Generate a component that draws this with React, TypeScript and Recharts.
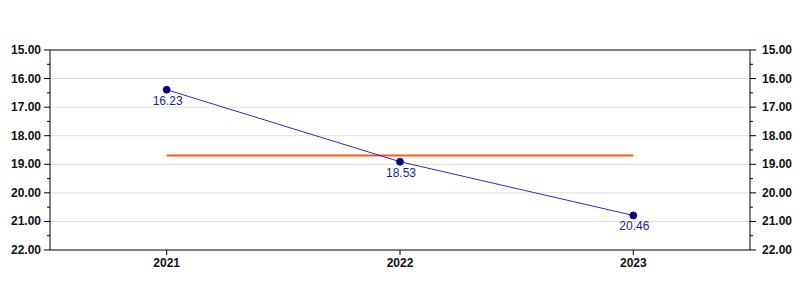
import React from 'react';
import { ComposedChart, Line, XAxis, YAxis, CartesianGrid, ReferenceLine, LabelList } from 'recharts';

const years = ['2021', '2022', '2023'];
const values = [16.39, 18.91, 20.79];
const valueLabels = ['16.23', '18.53', '20.46'];
const yTicks = [15, 15.5, 16, 16.5, 17, 17.5, 18, 18.5, 19, 19.5, 20, 20.5, 21, 21.5, 22];
const gridValues = [16, 17, 18, 19, 20, 21];

const mean = values.reduce((a, b) => a + b, 0) / values.length;
const data = years.map((year, i) => ({ year, value: values[i], label: valueLabels[i], avg: mean }));

const FONT = '"Liberation Sans", Arial, sans-serif';

const LeftTick = (props: any) => {
  const { x, y, payload } = props;
  const major = Number.isInteger(payload.value);
  return (
    <g>
      <line x1={x - (major ? 6 : 3)} x2={x} y1={y} y2={y} stroke="#000" />
      {major && (
        <text x={x - 9} y={y} dy={4} textAnchor="end" fontSize={12} fontWeight="bold" fontFamily={FONT} fill="#111">
          {payload.value.toFixed(2)}
        </text>
      )}
    </g>
  );
};

const RightTick = (props: any) => {
  const { x, y, payload } = props;
  const major = Number.isInteger(payload.value);
  return (
    <g>
      <line x1={x} x2={x + (major ? 6 : 3)} y1={y} y2={y} stroke="#000" />
      {major && (
        <text x={x + 12} y={y} dy={4} textAnchor="start" fontSize={12} fontWeight="bold" fontFamily={FONT} fill="#111">
          {payload.value.toFixed(2)}
        </text>
      )}
    </g>
  );
};

const PointLabel = (props: any) => {
  const { x, y, value } = props;
  return (
    <text x={x + 1} y={y + 15} textAnchor="middle" fontSize={12} fontFamily={FONT} fill="#1a1aa6">
      {value}
    </text>
  );
};

export default function App() {
  return (
    <div style={{ position: 'absolute', left: 0, top: 0, background: '#fff' }}>
      <ComposedChart width={800} height={300} data={data} margin={{ top: 50, right: 0, bottom: 0, left: 0 }}>
        <CartesianGrid yAxisId="left" vertical={false} horizontalValues={gridValues} stroke="#dcdcdc" />
        <XAxis
          dataKey="year"
          height={50}
          padding={{ left: 116.67, right: 116.67 }}
          tickSize={5}
          tickMargin={3}
          stroke="#000"
          tick={{ fill: '#111', fontSize: 12, fontWeight: 'bold', fontFamily: FONT }}
        />
        <YAxis
          yAxisId="left"
          orientation="left"
          width={50}
          reversed
          domain={[15, 22]}
          ticks={yTicks}
          interval={0}
          tickSize={0}
          tickMargin={0}
          tickLine={false}
          stroke="#000"
          tick={<LeftTick />}
        />
        <YAxis
          yAxisId="right"
          orientation="right"
          width={50}
          reversed
          domain={[15, 22]}
          ticks={yTicks}
          interval={0}
          tickSize={0}
          tickMargin={0}
          tickLine={false}
          stroke="#000"
          tick={<RightTick />}
        />
        <ReferenceLine yAxisId="left" y={15} stroke="#000" />
        <Line
          yAxisId="right"
          dataKey="value"
          stroke="none"
          dot={false}
          activeDot={false}
          legendType="none"
          isAnimationActive={false}
        />
        <Line
          yAxisId="left"
          dataKey="avg"
          stroke="#ff5a14"
          strokeWidth={2}
          dot={false}
          activeDot={false}
          isAnimationActive={false}
        />
        <Line
          yAxisId="left"
          dataKey="value"
          stroke="#2a2ac8"
          strokeWidth={1}
          dot={{ r: 3.5, fill: '#000070', stroke: '#1a1ab0', strokeWidth: 1 }}
          activeDot={false}
          isAnimationActive={false}
        >
          <LabelList dataKey="label" content={<PointLabel />} />
        </Line>
      </ComposedChart>
    </div>
  );
}
